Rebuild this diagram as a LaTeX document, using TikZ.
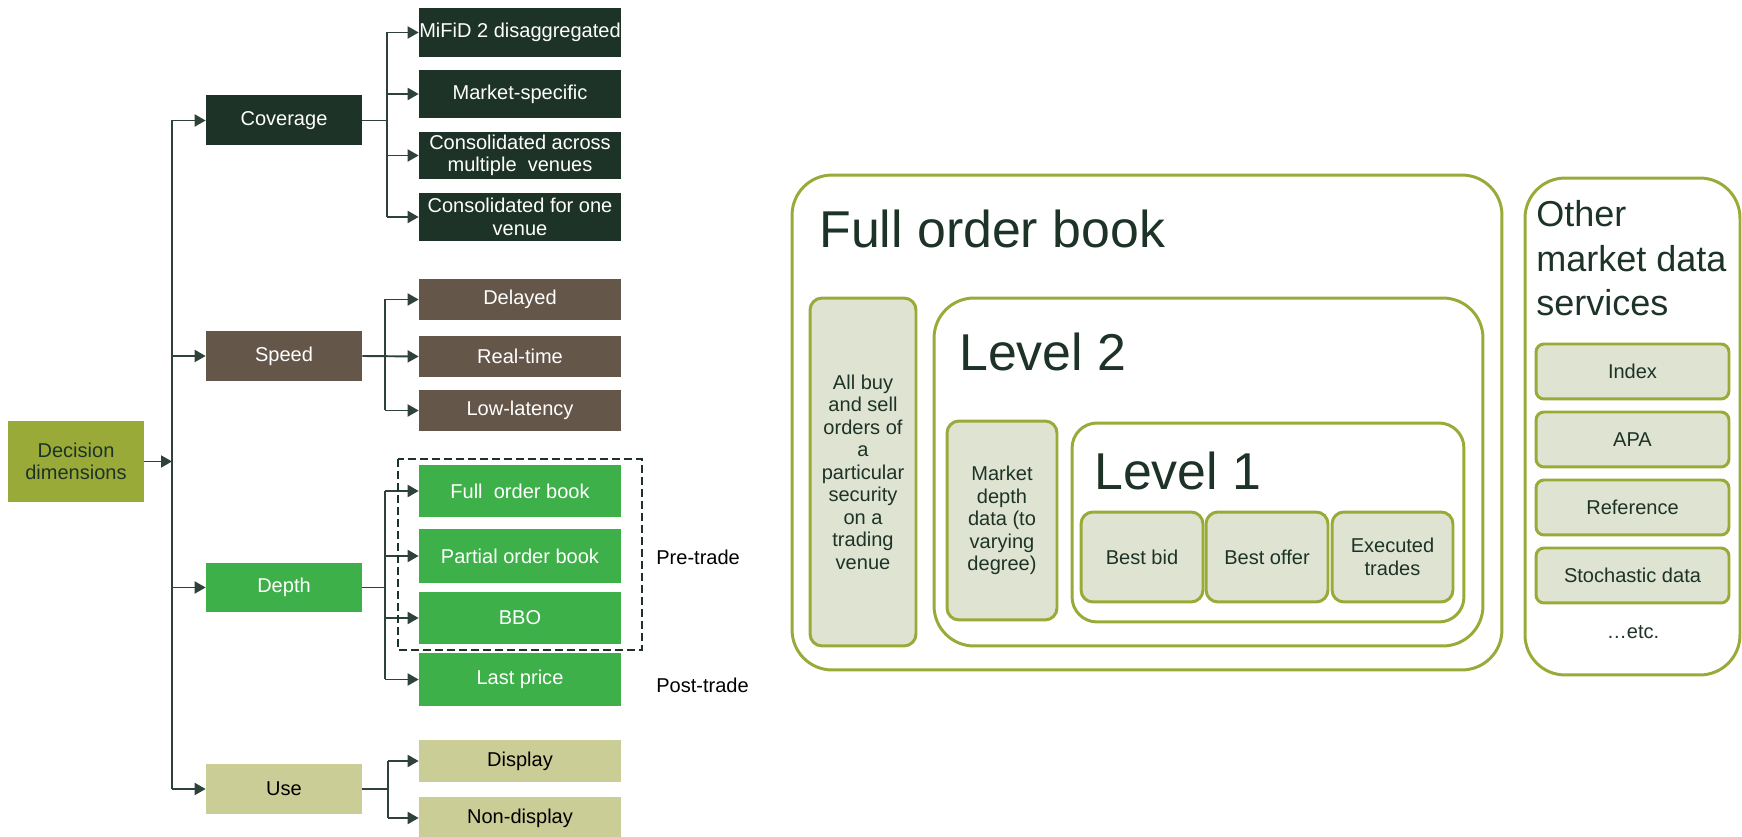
\documentclass[tikz,border=0pt]{standalone}
\usepackage{fontspec}
\setmainfont{Liberation Sans}
\usetikzlibrary{arrows.meta}

\definecolor{decclr}{HTML}{9AAA39}
\definecolor{coverclr}{HTML}{1D3327}
\definecolor{speedclr}{HTML}{65564A}
\definecolor{depthclr}{HTML}{3DB049}
\definecolor{useclr}{HTML}{CBCD97}
\definecolor{lineclr}{HTML}{2F4239}
\definecolor{panelclr}{HTML}{9AAA39}
\definecolor{cellclr}{HTML}{DFE3D1}
\definecolor{titleclr}{HTML}{1D3327}

\tikzset{
  box/.style={inner sep=0pt, align=center, font=\fontsize{11.4}{12.8}\selectfont},
  mid/.style={box, minimum width=3.12cm, minimum height=1cm},
  leaf/.style={box, minimum width=4.04cm},
  conn/.style={draw=lineclr, line width=1.1pt},
  arr/.style={conn, -{Triangle[length=0.22cm,width=0.24cm]}},
  panel/.style={draw=panelclr, line width=1.7pt, rounded corners=0.8cm},
  cell/.style={box, draw=panelclr, fill=cellclr, line width=1.7pt, rounded corners=0.24cm, text=titleclr},
  svc/.style={cell, minimum width=3.86cm, minimum height=1.1cm, rounded corners=0.16cm},
  heading/.style={text=titleclr, font=\fontsize{29.5}{35}\selectfont, inner sep=0pt, anchor=base west},
}

\begin{document}
\begin{tikzpicture}[x=0.02cm, y=-0.02cm]
    \useasboundingbox (0,0) rectangle (1742,837);

    % decision tree
    \node[box, fill=decclr, text=titleclr, minimum width=2.72cm, minimum height=1.62cm] (dec) at (76,461.5) {Decision\\dimensions};

    \node[mid, fill=coverclr, text=white] (cov) at (284,120.5) {Coverage};
    \node[mid, fill=speedclr, text=white] (spd) at (284,356) {Speed};
    \node[mid, fill=depthclr, text=white] (dep) at (284,587.5) {Depth};
    \node[mid, fill=useclr, text=black] (use) at (284,789) {Use};

    \node[leaf, fill=coverclr, text=white, minimum height=0.98cm] (mifid) at (520,32.5) {MiFiD 2 disaggregated};
    \node[leaf, fill=coverclr, text=white, minimum height=0.96cm] (mkt) at (520,94) {Market-specific};
    \node[leaf, fill=coverclr, text=white, minimum height=0.94cm] (consall) at (520,155.5) {Consolidated across\\multiple\ \ venues};
    \node[leaf, fill=coverclr, text=white, minimum height=0.96cm] (consone) at (520,217) {Consolidated for one\\venue};

    \node[leaf, fill=speedclr, text=white, minimum height=0.82cm] (delay) at (520,299.5) {Delayed};
    \node[leaf, fill=speedclr, text=white, minimum height=0.82cm] (real) at (520,356.5) {Real-time};
    \node[leaf, fill=speedclr, text=white, minimum height=0.82cm] (low) at (520,410.5) {Low-latency};

    \node[leaf, fill=depthclr, text=white, minimum height=1.04cm] (full) at (520,491) {Full\ \ order book};
    \node[leaf, fill=depthclr, text=white, minimum height=1.08cm] (part) at (520,556) {Partial order book};
    \node[leaf, fill=depthclr, text=white, minimum height=1.04cm] (bbo) at (520,618) {BBO};
    \node[leaf, fill=depthclr, text=white, minimum height=1.06cm] (last) at (520,679.5) {Last price};

    \node[leaf, fill=useclr, text=black, minimum height=0.84cm] (disp) at (520,761) {Display};
    \node[leaf, fill=useclr, text=black, minimum height=0.84cm] (nondisp) at (520,818) {Non-display};

    \node[box, anchor=west] (pre) at (656,557) {Pre-trade};
    \node[box, anchor=west] (post) at (656,685) {Post-trade};

    % branch lines
    \coordinate (trunk) at (172,0);
    \coordinate (covbr) at (387,0);
    \coordinate (spdbr) at (385,0);
    \coordinate (depbr) at (385,0);
    \coordinate (usebr) at (388,0);

    \draw[arr] (dec.east) -- (trunk |- dec.east);
    \draw[conn] (trunk |- cov) -- (trunk |- use);
    \draw[arr] (trunk |- cov) -- (cov.west);
    \draw[arr] (trunk |- spd) -- (spd.west);
    \draw[arr] (trunk |- dep) -- (dep.west);
    \draw[arr] (trunk |- use) -- (use.west);

    \draw[conn] (cov.east) -- (covbr |- cov);
    \draw[conn] (covbr |- mifid) -- (covbr |- consone);
    \draw[arr] (covbr |- mifid) -- (mifid.west);
    \draw[arr] (covbr |- mkt) -- (mkt.west);
    \draw[arr] (covbr |- consall) -- (consall.west);
    \draw[arr] (covbr |- consone) -- (consone.west);

    \draw[conn] (spdbr |- delay) -- (spdbr |- low);
    \draw[arr] (spd.east) -- (real.west);
    \draw[arr] (spdbr |- delay) -- (delay.west);
    \draw[arr] (spdbr |- low) -- (low.west);

    \draw[conn] (dep.east) -- (depbr |- dep);
    \draw[conn] (depbr |- full) -- (depbr |- last);
    \draw[arr] (depbr |- full) -- (full.west);
    \draw[arr] (depbr |- part) -- (part.west);
    \draw[arr] (depbr |- bbo) -- (bbo.west);
    \draw[arr] (depbr |- last) -- (last.west);

    \draw[conn] (use.east) -- (usebr |- use);
    \draw[conn] (usebr |- disp) -- (usebr |- nondisp);
    \draw[arr] (usebr |- disp) -- (disp.west);
    \draw[arr] (usebr |- nondisp) -- (nondisp.west);

    % pre-trade group
    \draw[draw=coverclr, line width=1.7pt, dash pattern=on 0.16cm off 0.08cm] (398,459) rectangle (642,650);

    % order book levels
    \node[panel, minimum width=14.2cm, minimum height=9.9cm] (fob) at (1147,422.5) {};
    \node[heading] (fobtitle) at (819,248) {Full order book};
    \node[cell, minimum width=2.12cm, minimum height=6.96cm] (allbuy) at (863,472) {All buy\\and sell\\orders of\\a\\particular\\security\\on a\\trading\\venue};

    \node[panel, minimum width=10.98cm, minimum height=6.96cm] (lvltwo) at (1208.5,472) {};
    \node[heading] (lvltwotitle) at (959,371) {Level 2};
    \node[cell, minimum width=2.2cm, minimum height=3.98cm] (mdepth) at (1002,520.5) {Market\\depth\\data (to\\varying\\degree)};

    \node[panel, rounded corners=0.5cm, minimum width=7.84cm, minimum height=3.98cm] (lvlone) at (1268,522.5) {};
    \node[heading] (lvlonetitle) at (1094,490) {Level 1};
    \node[cell, minimum width=2.44cm, minimum height=1.8cm] (bid) at (1142,557) {Best bid};
    \node[cell, minimum width=2.44cm, minimum height=1.8cm] (offer) at (1267,557) {Best offer};
    \node[cell, minimum width=2.42cm, minimum height=1.8cm] (exec) at (1392.5,557) {Executed\\trades};

    % other services
    \node[panel, minimum width=4.3cm, minimum height=9.94cm] (other) at (1632.5,426.5) {};
    \node[text=titleclr, font=\fontsize{20.5}{25.6}\selectfont, align=left, anchor=base west, inner sep=0pt] (othertitle) at (1536,316) {Other\\market data\\services};
    \node[svc] (index) at (1632.5,371.5) {Index};
    \node[svc] (apa) at (1632.5,439.5) {APA};
    \node[svc] (ref) at (1632.5,507.5) {Reference};
    \node[svc] (stoch) at (1632.5,575.5) {Stochastic data};
    \node[box, text=titleclr] (etc) at (1633,632) {…etc.};
\end{tikzpicture}
\end{document}
